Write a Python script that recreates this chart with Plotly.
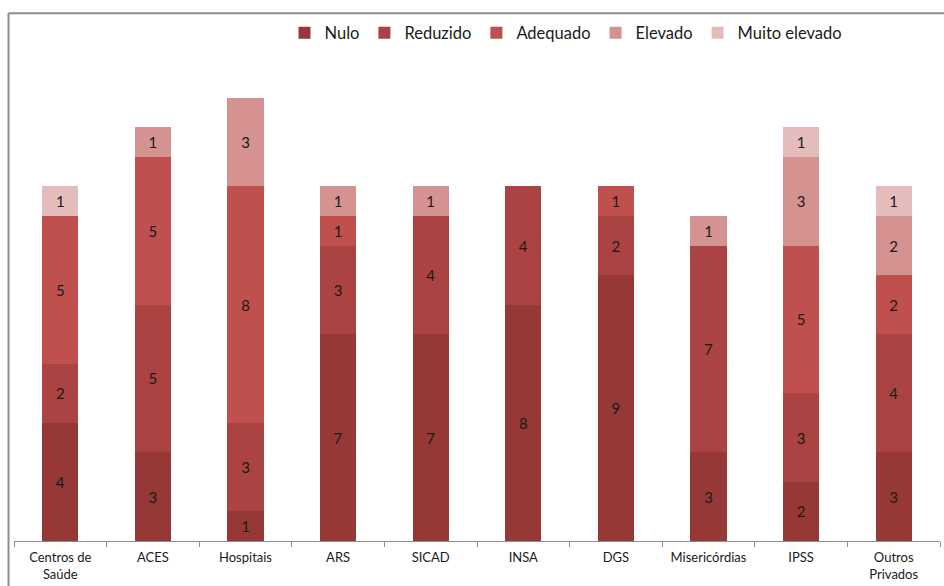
import plotly.graph_objects as go

categories = ["Centros de<br>Saúde", "ACES", "Hospitais", "ARS", "SICAD",
              "INSA", "DGS", "Misericórdias", "IPSS", "Outros<br>Privados"]

nulo          = [4, 3, 1, 7, 7, 8, 9, 3, 2, 3]
reduzido      = [2, 5, 3, 3, 4, 4, 2, 7, 3, 4]
adequado      = [5, 5, 8, 1, 0, 0, 1, 0, 5, 2]
elevado       = [0, 1, 3, 1, 1, 0, 0, 1, 3, 2]
muito_elevado = [1, 0, 0, 0, 0, 0, 0, 0, 1, 1]

series = [
    ("Nulo", nulo, "#953836"),
    ("Reduzido", reduzido, "#AA4341"),
    ("Adequado", adequado, "#C0504D"),
    ("Elevado", elevado, "#D49290"),
    ("Muito elevado", muito_elevado, "#E5BCBC"),
]

FONT = "Lato, 'Open Sans', sans-serif"

fig = go.Figure()
for name, vals, color in series:
    fig.add_trace(go.Bar(
        name=name,
        x=categories,
        y=vals,
        marker=dict(color=color, line=dict(width=0)),
        text=[str(v) if v else "" for v in vals],
        textposition="inside",
        insidetextanchor="middle",
        textangle=0,
        textfont=dict(family=FONT, size=15, color="#1a1a1a"),
        hoverinfo="x+y+name",
    ))

W, H = 944, 586
ml, mr, mt, mb = 14, 4, 60, 43
plot_w = W - ml - mr
plot_h = H - mt - mb
unit_px = 29.67

def px_to_paper_x(px):
    return (px - ml) / plot_w

def px_to_paper_y(py):
    return (H - mb - py) / plot_h

fig.update_layout(
    width=W, height=H,
    margin=dict(l=ml, r=mr, t=mt, b=mb, pad=0),
    barmode="stack",
    bargap=0.61,
    plot_bgcolor="white",
    paper_bgcolor="white",
    font=dict(family=FONT, color="#1a1a1a"),
    showlegend=True,
    legend=dict(
        orientation="h",
        x=px_to_paper_x(566), xanchor="center",
        y=px_to_paper_y(33), yanchor="middle",
        font=dict(family=FONT, size=16.5, color="#1a1a1a"),
        itemwidth=30,
        traceorder="normal",
        bgcolor="rgba(0,0,0,0)",
    ),
    xaxis=dict(
        showgrid=False,
        showline=True, linecolor="#8c8c8c", linewidth=1,
        ticks="outside", tickson="boundaries", ticklen=5, tickcolor="#8c8c8c",
        tickfont=dict(family=FONT, size=13, color="#1a1a1a"),
        ticklabelstandoff=4,
        fixedrange=True,
    ),
    yaxis=dict(
        range=[0, plot_h / unit_px],
        showgrid=False, showline=False, showticklabels=False,
        zeroline=False, ticks="",
    ),
    shapes=[
        dict(type="line", xref="paper", yref="paper",
             x0=px_to_paper_x(8.5), x1=px_to_paper_x(950),
             y0=px_to_paper_y(13), y1=px_to_paper_y(13),
             line=dict(color="#8c8c8c", width=2)),
        dict(type="line", xref="paper", yref="paper",
             x0=px_to_paper_x(8.5), x1=px_to_paper_x(8.5),
             y0=px_to_paper_y(13), y1=px_to_paper_y(600),
             line=dict(color="#8c8c8c", width=2)),
    ],
)

fig.write_html("out.html")
